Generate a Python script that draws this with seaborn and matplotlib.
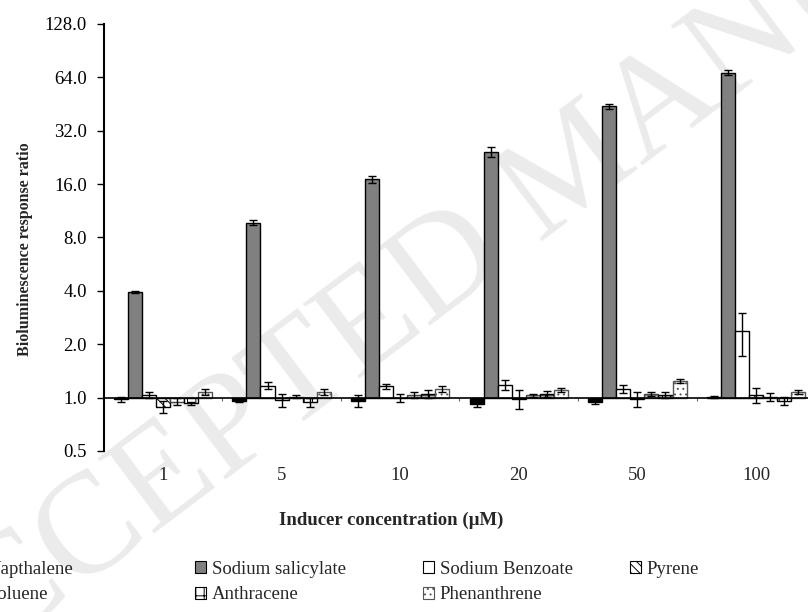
import numpy as np
import pandas as pd
import seaborn as sns
import matplotlib.pyplot as plt
from matplotlib.patches import Patch
from matplotlib.ticker import FuncFormatter

# Inducer concentrations (uM) and compounds tested
concs = ['1', '5', '10', '20', '50', '100']
compounds = ['Napthalene', 'Sodium salicylate', 'Sodium Benzoate', 'Pyrene',
             'Toluene', 'Anthracene', 'Phenanthrene']

# Bioluminescence response ratio (mean) and error bar, per compound
napthalene = [0.98, 0.96, 0.96, 0.92, 0.95, 1.01]
napthalene_err = [0.03, 0.02, 0.07, 0.04, 0.03, 0.01]
salicylate = [3.95, 9.7, 17.0, 24.4, 44.0, 68.0]
salicylate_err = [0.05, 0.3, 0.8, 1.5, 1.5, 2.0]
benzoate = [1.03, 1.17, 1.16, 1.18, 1.12, 2.36]
benzoate_err = [0.04, 0.05, 0.04, 0.07, 0.06, 0.65]
pyrene = [0.89, 0.97, 1.0, 0.98, 0.98, 1.03]
pyrene_err = [0.07, 0.08, 0.05, 0.12, 0.1, 0.1]
toluene = [0.95, 1.01, 1.03, 1.03, 1.05, 1.01]
toluene_err = [0.04, 0.02, 0.04, 0.02, 0.03, 0.05]
anthracene = [0.93, 0.94, 1.05, 1.05, 1.03, 0.96]
anthracene_err = [0.02, 0.06, 0.06, 0.04, 0.04, 0.05]
phenanthrene = [1.08, 1.08, 1.12, 1.11, 1.24, 1.08]
phenanthrene_err = [0.04, 0.04, 0.05, 0.03, 0.03, 0.03]

vals = [napthalene, salicylate, benzoate, pyrene, toluene, anthracene, phenanthrene]
errs = [napthalene_err, salicylate_err, benzoate_err, pyrene_err,
        toluene_err, anthracene_err, phenanthrene_err]

# bar styles
faces = ['black', '#808080', 'white', 'white', 'white', 'white', 'white']
hatches = ['', '', '', '\\\\\\\\', '--', '++', '...']
edges = ['black', 'black', 'black', 'black', '#444444', 'black', '#555555']

sns.set_style('white')
plt.rcParams['font.family'] = ['Liberation Serif', 'DejaVu Serif']
plt.rcParams['hatch.linewidth'] = 0.7

# long form table, log2 so bars grow from a ratio of 1
rows = []
for name, v in zip(compounds, vals):
    for c, y in zip(concs, v):
        rows.append({'conc': c, 'compound': name, 'log2ratio': np.log2(y)})
df = pd.DataFrame(rows)

fig = plt.figure(figsize=(8.08, 6.12), dpi=100)

# watermark
fig.text(578 / 808, 1 - 171 / 612, 'ACCEPTED MANUSCRIPT', rotation=37, rotation_mode='anchor',
         ha='center', va='center', fontsize=104, color='#ebebeb', zorder=-1)

ax = fig.add_axes([0.1283, 0.2631, 0.8807, 0.6977])
ax.set_facecolor('none')

sns.barplot(data=df, x='conc', y='log2ratio', hue='compound', order=concs, hue_order=compounds,
            palette=dict(zip(compounds, faces)), saturation=1, errorbar=None, width=0.83,
            edgecolor='black', linewidth=1, legend=False, ax=ax)

bar_containers = list(ax.containers)
for i, cont in enumerate(bar_containers):
    for p in cont:
        p.set_hatch(hatches[i])
        p.set_edgecolor(edges[i])
    xs = [p.get_x() + p.get_width() / 2 for p in cont]
    v = np.array(vals[i])
    e = np.array(errs[i])
    lo = np.log2(v) - np.log2(v - e)
    hi = np.log2(v + e) - np.log2(v)
    ax.errorbar(xs, np.log2(v), yerr=[lo, hi], fmt='none', ecolor='black',
                elinewidth=1, capsize=3, capthick=1, zorder=3)

ax.set_xlim(-0.5, len(concs) - 0.5)
ax.set_ylim(-1, 7)
ax.set_yticks(range(-1, 8))
ax.yaxis.set_major_formatter(FuncFormatter(lambda t, pos: f'{2.0 ** t:.1f}'))
ax.set_xticks(np.arange(len(concs) - 1) + 0.5)
ax.set_xticklabels([])
ax.set_xlabel('')
ax.set_ylabel('')

ax.spines['bottom'].set_position(('data', 0))
ax.spines[['top', 'right']].set_visible(False)
ax.spines['left'].set_linewidth(1.5)
ax.spines['left'].set_color('black')
ax.spines['bottom'].set_linewidth(1.2)
ax.spines['bottom'].set_color('black')
ax.tick_params(axis='y', left=True, direction='out', length=5, width=1, pad=7,
               labelsize=13.5, colors='black')
ax.tick_params(axis='x', bottom=True, direction='out', length=2.5, width=0.8, color='#666666')

# category labels sit under the plot, not on the axis line
sec = ax.secondary_xaxis('bottom')
sec.set_xticks(range(len(concs)), labels=concs)
sec.tick_params(length=0, pad=11.5, labelsize=13.5)
sec.spines['bottom'].set_visible(False)

fig.text(25 / 808, 1 - 249 / 612, 'Bioluminescence response ratio', rotation=90,
         fontsize=11.5, fontweight='bold', ha='center', va='center')
fig.text(391 / 808, 1 - 520 / 612, 'Inducer concentration (µM)',
         fontsize=13.5, fontweight='bold', ha='center', va='center')

# legend, equal width columns like the original
columns = [[0, 4], [1, 5], [2, 6], [3]]
col_x = [-29, 195, 423, 630]
for idx, x in zip(columns, col_x):
    handles = [Patch(facecolor=faces[k], edgecolor=edges[k], hatch=hatches[k], linewidth=0.8)
               for k in idx]
    labels = [compounds[k] for k in idx]
    fig.legend(handles, labels, loc='upper left', bbox_to_anchor=(x / 808, 1 - 561 / 612),
               frameon=False, borderpad=0, borderaxespad=0, handlelength=0.6,
               handleheight=0.6, handletextpad=0.3, labelspacing=0.45, fontsize=13.5)

fig.savefig('out.png', dpi=100)
